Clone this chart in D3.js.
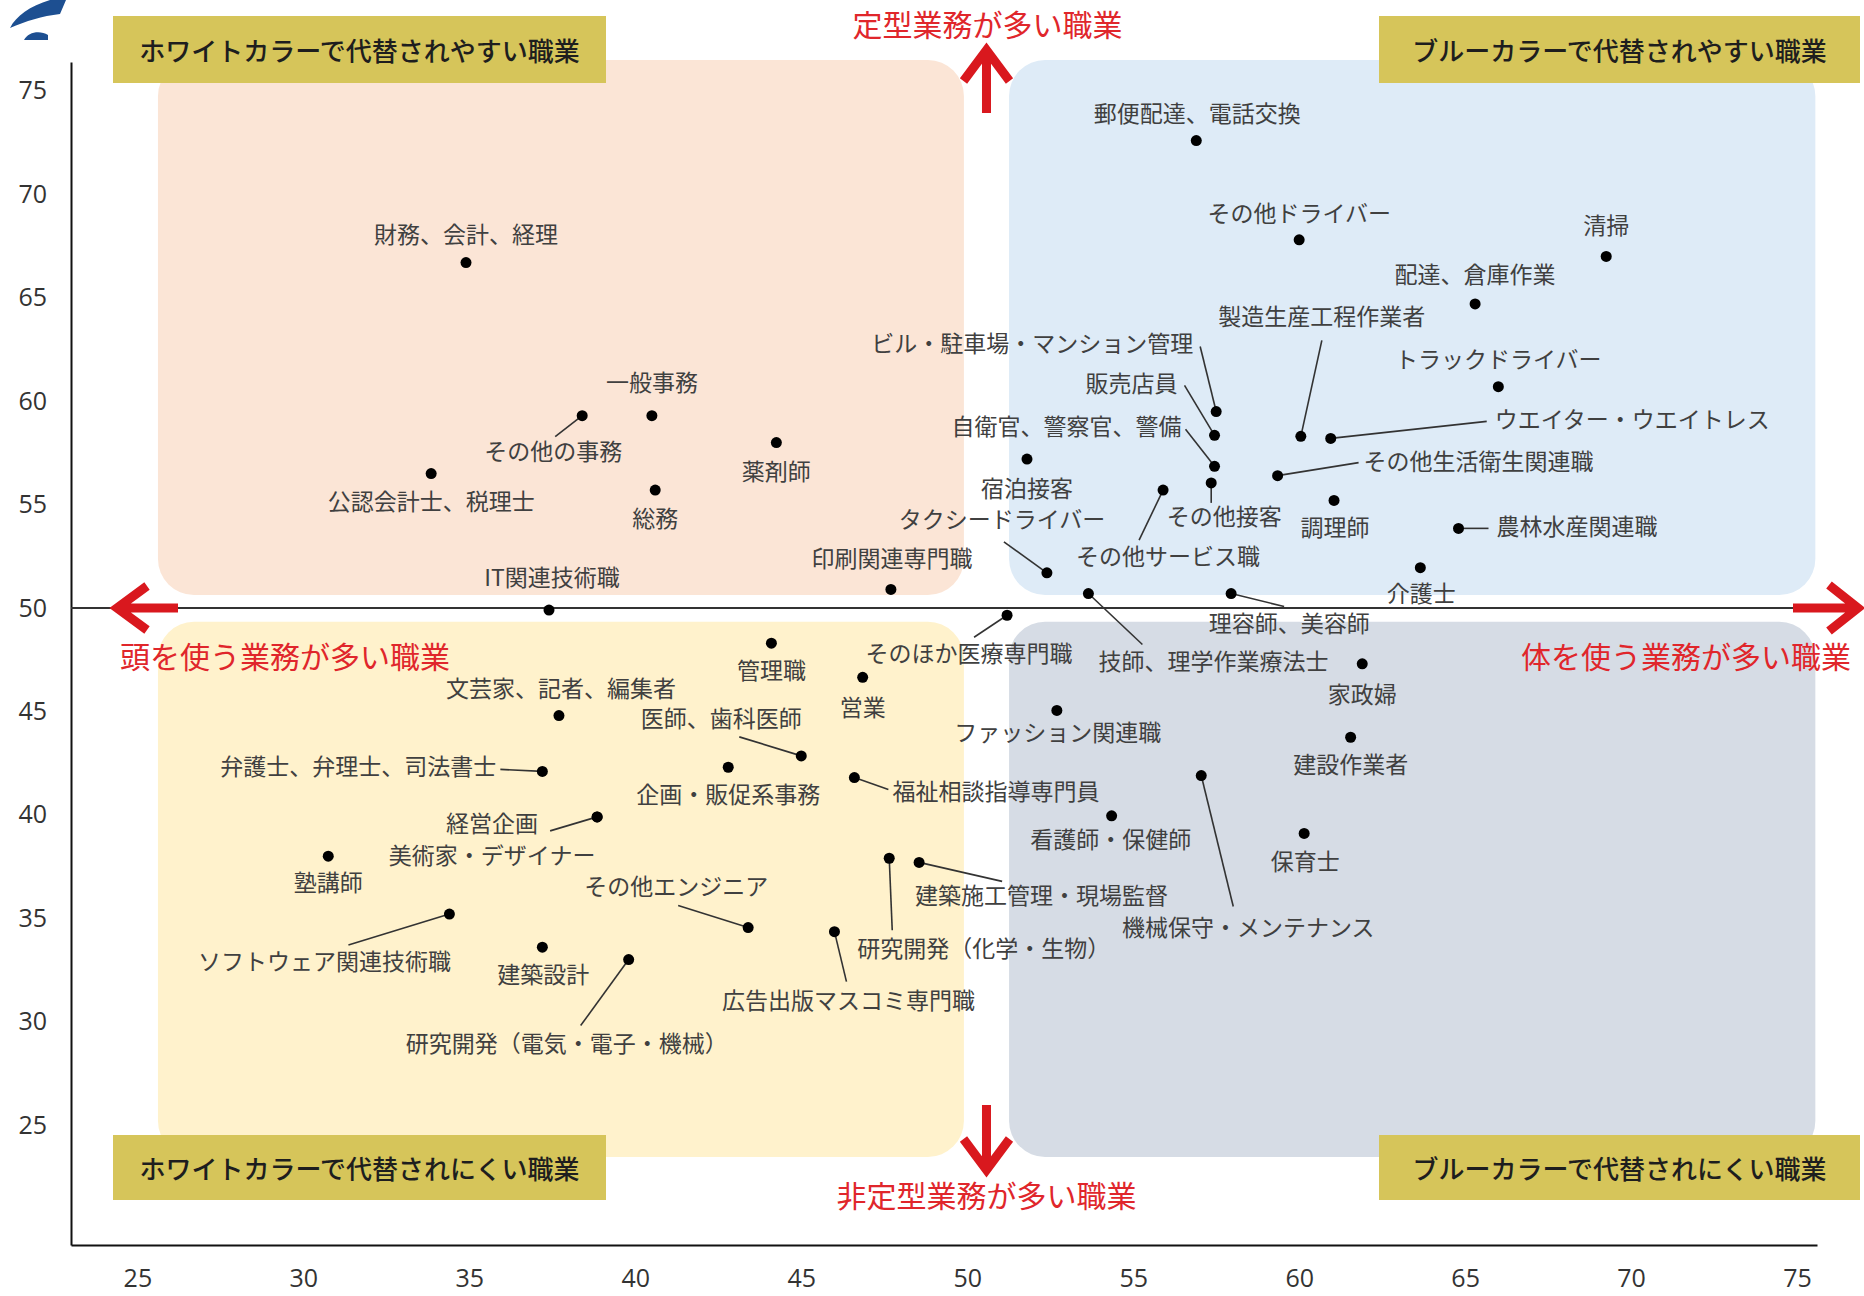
<!DOCTYPE html>
<html><head><meta charset="utf-8">
<script src="https://cdn.jsdelivr.net/npm/d3@7"></script>
<style>
html,body{margin:0;padding:0;background:#fff;}
svg{display:block;}
</style></head><body>
<svg id="chart" width="1864" height="1296"></svg>
<script>
// ---------------- DATA ----------------
const jobs = [
  "財務、会計、経理","一般事務","その他の事務","公認会計士、税理士","薬剤師","総務","IT関連技術職","印刷関連専門職",
  "郵便配達、電話交換","その他ドライバー","清掃","配達、倉庫作業","製造生産工程作業者","トラックドライバー",
  "ウエイター・ウエイトレス","ビル・駐車場・マンション管理","販売店員","自衛官、警察官、警備","その他接客","宿泊接客",
  "その他サービス職","その他生活衛生関連職","調理師","農林水産関連職","介護士","タクシードライバー",
  "技師、理学作業療法士","理容師、美容師","そのほか医療専門職","管理職","営業","文芸家、記者、編集者",
  "医師、歯科医師","企画・販促系事務","弁護士、弁理士、司法書士","福祉相談指導専門員","経営企画","美術家・デザイナー",
  "塾講師","ソフトウェア関連技術職","建築設計","研究開発（電気・電子・機械）","その他エンジニア","広告出版マスコミ専門職",
  "研究開発（化学・生物）","建築施工管理・現場監督","ファッション関連職","看護師・保健師","機械保守・メンテナンス",
  "家政婦","建設作業者","保育士"
];
// x: 体を使う業務の度合い, y: 定型業務の度合い
const xValues = [
  34.9, 40.5, 38.4, 33.85, 44.25, 40.6, 37.4, 47.7,
  56.9, 60.0, 69.25, 65.3, 60.05, 66.0,
  60.95, 57.5, 57.45, 57.45, 57.35, 51.8,
  55.9, 59.35, 61.05, 64.8, 63.65, 52.4,
  53.65, 57.95, 51.2, 44.1, 46.85, 37.7,
  45.0, 42.8, 37.2, 46.6, 38.85, 38.85,
  30.75, 34.4, 37.2, 39.8, 43.4, 46.0,
  47.65, 48.55, 52.7, 54.35, 57.05,
  61.9, 61.55, 60.15
];
const yValues = [
  66.7, 59.3, 59.3, 56.5, 58.0, 55.7, 49.9, 50.9,
  72.6, 67.8, 67.0, 64.7, 58.3, 60.7,
  58.2, 59.5, 58.35, 56.85, 56.05, 57.2,
  55.7, 56.4, 55.2, 53.85, 51.95, 51.7,
  50.7, 50.7, 49.65, 48.3, 46.65, 44.8,
  42.85, 42.3, 42.1, 41.8, 39.9, 39.9,
  38.0, 35.2, 33.6, 33.0, 34.55, 34.35,
  37.9, 37.7, 45.05, 39.95, 41.9,
  47.3, 43.75, 39.1
];
const xTicks = [25, 30, 35, 40, 45, 50, 55, 60, 65, 70, 75];
const yTicks = [25, 30, 35, 40, 45, 50, 55, 60, 65, 70, 75];
const quadrantTitles = [
  "ホワイトカラーで代替されやすい職業",
  "ブルーカラーで代替されやすい職業",
  "ホワイトカラーで代替されにくい職業",
  "ブルーカラーで代替されにくい職業"
];
const directionLabels = [
  "定型業務が多い職業",
  "非定型業務が多い職業",
  "頭を使う業務が多い職業",
  "体を使う業務が多い職業"
];

// ---------------- LAYOUT (label offsets in px from dot) ----------------
// [dx, dy, anchor, leaderDx, leaderDy]
const labelLayout = [
  [0,-27,"middle"],[0,-32,"middle"],[-29,37,"middle",-27,21],[0,29,"middle"],[0,30,"middle"],[0,30,"middle"],[3,-31,"middle"],[1,-29,"middle"],
  [1,-26,"middle"],[0,-25,"middle"],[0,-29,"middle"],[0,-28,"middle"],[21,-118,"middle",21,-96],[0,-26,"middle"],
  [164,-17,"start",156,-17],[-23,-67,"end",-16,-65],[-37,-50,"end",-30,-50],[-33,-38,"end",-29,-37],[13,35,"middle",0,20],[0,31,"middle"],
  [5,68,"middle",-24,50],[86,-13,"start",81,-13],[1,29,"middle"],[38,0,"start",30,0],[1,27,"middle"],[-45,-52,"middle",-43,-31],
  [10,69,"start",54,51],[58,31,"middle",53,13],[-38,40,"middle",-33,22],[0,29,"middle"],[0,32,"middle"],[2,-26,"middle"],
  [-80,-36,"middle",-62,-19],[0,29,"middle"],[-46,-3,"end",-42,-2],[38,15,"start",34,12],[-105,8,"middle",-47,14],[-105,40,"middle"],
  [0,28,"middle"],[-125,49,"middle",-101,31],[1,29,"middle"],[-62,85,"middle",-48,66],[-72,-40,"middle",-70,-22],[14,70,"middle",12,50],
  [-32,92,"start",3,72],[-4,35,"start",83,19],[1,24,"middle"],[-1,25,"middle"],[47,153,"middle",32,131],
  [0,32,"middle"],[0,29,"middle"],[1,30,"middle"]
];
const labelShiftY = -3;

const W = 1864, H = 1296;
const svg = d3.select("#chart");
const x = d3.scaleLinear().domain([23, 75.6]).range([71, 1817]);
const y = d3.scaleLinear().domain([19.2, 76.4]).range([1245, 62]);

const jpFont = "'Noto Sans CJK JP','Noto Sans',sans-serif";

// logo fragment
svg.append("path").attr("d","M10,28 C16,16 30,6 50,0 L66,0 L60,14 C42,16 26,21 10,28 Z").attr("fill","#1d4f91");
svg.append("path").attr("d","M24,40 C28,32 40,30 48,35 L48,40 Z").attr("fill","#1d4f91");

// quadrant backgrounds (data units)
const quads = [
  {x0:25.62,x1:49.9, y0:50.63,y1:76.5, c:"#fbe5d6"},
  {x0:51.26,x1:75.55,y0:50.63,y1:76.5, c:"#deebf7"},
  {x0:25.62,x1:49.9, y0:23.46,y1:49.33,c:"#fff2cc"},
  {x0:51.26,x1:75.55,y0:23.46,y1:49.33,c:"#d6dce5"}
];
svg.append("g").selectAll("rect").data(quads).join("rect")
  .attr("x",d=>x(d.x0)).attr("y",d=>y(d.y1))
  .attr("width",d=>x(d.x1)-x(d.x0)).attr("height",d=>y(d.y0)-y(d.y1))
  .attr("rx",36).attr("ry",36).attr("fill",d=>d.c);

// quadrant title boxes
const boxes = [
  {x:113,y:16,w:493,h:67},{x:1379,y:16,w:481,h:67},
  {x:113,y:1135,w:493,h:65},{x:1379,y:1135,w:481,h:65}
];
const bg = svg.append("g");
boxes.forEach((b,i)=>{
  bg.append("rect").attr("x",b.x).attr("y",b.y).attr("width",b.w).attr("height",b.h).attr("fill","#d6c55a");
  bg.append("text").attr("x",b.x+b.w/2).attr("y",b.y+b.h/2).attr("text-anchor","middle")
    .attr("dominant-baseline","central").attr("font-family",jpFont).attr("font-size",26)
    .attr("font-weight",500).attr("fill","#1e1e1e").text(quadrantTitles[i]);
});

// axes
const tickFont = "'Open Sans','Noto Sans',sans-serif";
const gx = svg.append("g").attr("transform",`translate(0,${y.range()[0]})`)
  .call(d3.axisBottom(x).tickValues(xTicks).tickSize(0).tickSizeOuter(0).tickPadding(24));
const gy = svg.append("g").attr("transform",`translate(${x.range()[0]},0)`)
  .call(d3.axisLeft(y).tickValues(yTicks).tickSize(0).tickSizeOuter(0).tickPadding(24));
[gx,gy].forEach(g=>{
  g.select(".domain").attr("stroke","#111").attr("stroke-width",2);
  g.selectAll("text").attr("font-family",tickFont).attr("font-size",25).attr("fill","#333");
});

// y=50 line
svg.append("line").attr("x1",x(23)).attr("x2",1820).attr("y1",y(50)).attr("y2",y(50))
  .attr("stroke","#333").attr("stroke-width",2);

// red arrows
const red = "#d9181e";
const cx = (x(49.9)+x(51.26))/2, cy = y(50);
const arrows = [
  `M${cx},113 L${cx},52 M${cx-23},81 L${cx},50 L${cx+23},81`,
  `M${cx},1105 L${cx},1166 M${cx-23},1139 L${cx},1170 L${cx+23},1139`,
  `M178,${cy} L119,${cy} M147,${cy-22} L117,${cy} L147,${cy+22}`,
  `M1793,${cy} L1856,${cy} M1829,${cy-23} L1858,${cy} L1829,${cy+23}`
];
svg.append("g").selectAll("path").data(arrows).join("path").attr("d",d=>d)
  .attr("fill","none").attr("stroke",red).attr("stroke-width",9).attr("stroke-linejoin","miter");

// direction labels
const dirPos = [
  {x:cx+1,y:23,a:"middle"},{x:cx,y:1194,a:"middle"},{x:120,y:655,a:"start"},{x:1851,y:655,a:"end"}
];
svg.append("g").selectAll("text").data(directionLabels).join("text")
  .attr("x",(d,i)=>dirPos[i].x).attr("y",(d,i)=>dirPos[i].y).attr("text-anchor",(d,i)=>dirPos[i].a)
  .attr("dominant-baseline","central").attr("font-family",jpFont).attr("font-size",30)
  .attr("fill","#e0262b").text(d=>d);

// points
const pts = jobs.map((n,i)=>({name:n, vx:xValues[i], vy:yValues[i], L:labelLayout[i]}));

svg.append("g").selectAll("line").data(pts.filter(d=>d.L.length>3)).join("line")
  .attr("x1",d=>x(d.vx)+d.L[3]).attr("y1",d=>y(d.vy)+d.L[4])
  .attr("x2",d=>x(d.vx)).attr("y2",d=>y(d.vy))
  .attr("stroke","#333").attr("stroke-width",1.6);

svg.append("g").selectAll("circle").data(pts).join("circle")
  .attr("cx",d=>x(d.vx)).attr("cy",d=>y(d.vy)).attr("r",5.5).attr("fill","#000");

svg.append("g").selectAll("text").data(pts).join("text")
  .attr("x",d=>x(d.vx)+d.L[0]).attr("y",d=>y(d.vy)+d.L[1]+labelShiftY)
  .attr("text-anchor",d=>d.L[2]).attr("dominant-baseline","central")
  .attr("font-family",jpFont).attr("font-size",23).attr("fill","#404040")
  .text(d=>d.name);
</script>
</body></html>
